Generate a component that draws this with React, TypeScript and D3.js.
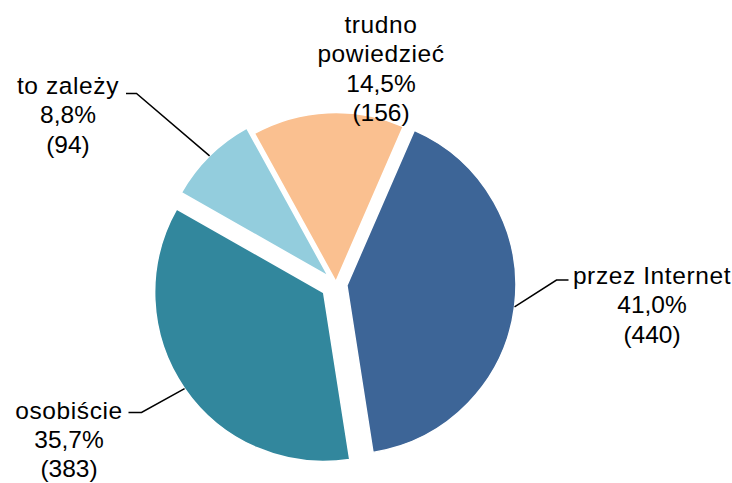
import { useEffect, useRef } from "react";
import * as d3 from "d3";

const categories = ["przez Internet", "osobiście", "to zależy", "trudno powiedzieć"];
const counts = [440, 383, 94, 156];
const percentLabels = ["41,0%", "35,7%", "8,8%", "14,5%"];
const colors = ["#3D6597", "#32879D", "#93CDDD", "#FAC090"];

// label layout (text centre x, first baseline y, explode distance, leader elbow)
const labelLayout = [
  { lines: ["przez Internet"], x: 652, y: 284, explode: 11, elbow: [556.5, 280], end: [568.5, 280] },
  { lines: ["osobiście"], x: 69, y: 418.5, explode: 15, elbow: [141.5, 412.5], end: [128.5, 412.5] },
  { lines: ["to zależy"], x: 68, y: 94, explode: 11, elbow: [136.5, 93.5], end: [126, 93.5] },
  { lines: ["trudno", "powiedzieć"], x: 381, y: 33, explode: 2.5, elbow: null, end: null },
];

export default function App() {
  const svgRef = useRef<SVGSVGElement>(null);

  useEffect(() => {
    if (!svgRef.current) return;
    d3.select(svgRef.current).selectAll("*").remove();

    const width = 732;
    const height = 483;
    const cx = 336;
    const cy = 284;
    const radius = 169;
    const start = (23.5 * Math.PI) / 180;

    const svg = d3
      .select(svgRef.current)
      .attr("width", width)
      .attr("height", height);

    const pie = d3
      .pie<number>()
      .sort(null)
      .value((d) => d)
      .startAngle(start)
      .endAngle(start + 2 * Math.PI);

    const arcs = pie(counts);
    const arc = d3.arc<d3.PieArcDatum<number>>().innerRadius(0).outerRadius(radius);

    const g = svg.append("g").attr("transform", `translate(${cx},${cy})`);

    const offset = (d: d3.PieArcDatum<number>, i: number) => {
      const mid = (d.startAngle + d.endAngle) / 2;
      const e = labelLayout[i].explode;
      return [Math.sin(mid) * e, -Math.cos(mid) * e];
    };

    g.selectAll("path")
      .data(arcs)
      .enter()
      .append("path")
      .attr("transform", (d, i) => {
        const [ox, oy] = offset(d, i);
        return `translate(${ox},${oy})`;
      })
      .attr("d", arc)
      .attr("fill", (_, i) => colors[i])
      .attr("stroke", "#fff")
      .attr("stroke-width", 1.5);

    // leader lines
    arcs.forEach((d, i) => {
      const lay = labelLayout[i];
      if (!lay.elbow || !lay.end) return;
      const mid = (d.startAngle + d.endAngle) / 2;
      const [ox, oy] = offset(d, i);
      const px = cx + ox + Math.sin(mid) * radius;
      const py = cy + oy - Math.cos(mid) * radius;
      svg
        .append("polyline")
        .attr("points", `${px},${py} ${lay.elbow[0]},${lay.elbow[1]} ${lay.end[0]},${lay.end[1]}`)
        .attr("fill", "none")
        .attr("stroke", "#000")
        .attr("stroke-width", 1.5);
    });

    // labels
    const lineH = 29.4;
    arcs.forEach((_, i) => {
      const lay = labelLayout[i];
      const lines = [...lay.lines, percentLabels[i], `(${counts[i]})`];
      const t = svg
        .append("text")
        .attr("text-anchor", "middle")
        .style("font-family", "'Liberation Sans', Arial, sans-serif")
        .style("font-size", "24.5px")
        .attr("fill", "#000");
      lines.forEach((ln, j) => {
        t.append("tspan")
          .attr("x", lay.x)
          .attr("y", lay.y + j * lineH)
          .style("letter-spacing", j < lay.lines.length ? "0.6px" : "0px")
          .text(ln);
      });
    });
  }, []);

  return (
    <div style={{ position: "absolute", left: 0, top: 0 }}>
      <svg ref={svgRef}></svg>
    </div>
  );
}
